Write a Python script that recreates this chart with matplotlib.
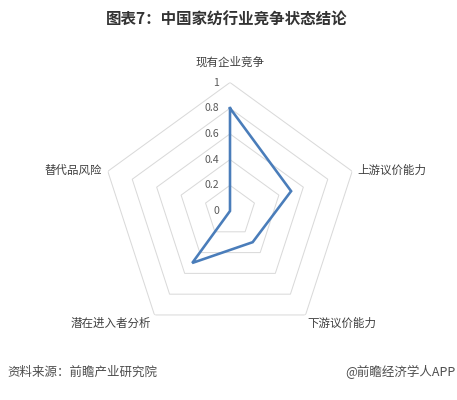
import numpy as np
import matplotlib
matplotlib.use("Agg")
import matplotlib.pyplot as plt

plt.rcParams['font.family'] = ['Noto Sans CJK SC', 'DejaVu Sans']

categories = ['现有企业竞争', '上游议价能力', '下游议价能力', '潜在进入者分析', '替代品风险']
values = [0.8, 0.5, 0.3, 0.5, 0.0]
ticks = [0, 0.2, 0.4, 0.6, 0.8, 1.0]
tick_labels = ['0', '0.2', '0.4', '0.6', '0.8', '1']

DPI = 72
fig = plt.figure(figsize=(457 / DPI, 400 / DPI), dpi=DPI)
fig.patch.set_facecolor('white')

cx, cy, R = 230, 211, 128.5
W, H = 457, 400
ax = fig.add_axes([(cx - R) / W, 1 - (cy + R) / H, 2 * R / W, 2 * R / H], projection='polar')
ax.set_theta_offset(np.pi / 2)
ax.set_theta_direction(-1)
ax.set_ylim(0, 1)
ax.grid(False)
ax.spines['polar'].set_visible(False)
ax.set_xticks([])
ax.set_yticks([])
ax.patch.set_alpha(0)

n = len(categories)
angles = np.arange(n) * 2 * np.pi / n
closed_angles = np.append(angles, angles[0])

# pentagon grid
for t in ticks[1:]:
    ax.plot(closed_angles, [t] * (n + 1), color='#d9d9d9', lw=1.0, zorder=1)

# data line
vals = values + values[:1]
ax.plot(closed_angles, vals, color='#4a7dba', lw=2.6, zorder=3, solid_joinstyle='miter')

# radial tick labels
for t, lab in zip(ticks, tick_labels):
    ax.annotate(lab, xy=(0, t), xytext=(-11, 0), textcoords='offset points',
                ha='right', va='center', fontsize=10.5, color='#595959')

# category labels
offsets = [(0, 14, 'center', 'bottom'),
           (5, 1, 'left', 'center'),
           (2, -2, 'left', 'top'),
           (-3, -2, 'right', 'top'),
           (-6, 1, 'right', 'center')]
for a, lab, (dx, dy, ha, va) in zip(angles, categories, offsets):
    ax.annotate(lab, xy=(a, 1.0), xytext=(dx, dy), textcoords='offset points',
                ha=ha, va=va, fontsize=11.5, color='#404040', annotation_clip=False)

fig.text(227 / W, 1 - 20 / H, '图表7：中国家纺行业竞争状态结论', ha='center', va='center',
         fontsize=15.5, fontweight='bold', color='#333333')
fig.text(7 / W, 1 - 372 / H, '资料来源：前瞻产业研究院', ha='left', va='center',
         fontsize=12.5, color='#4d4d4d')
fig.text(455 / W, 1 - 372 / H, '@前瞻经济学人APP', ha='right', va='center',
         fontsize=12.5, color='#4d4d4d')

fig.savefig('out.png', dpi=DPI, facecolor='white')
